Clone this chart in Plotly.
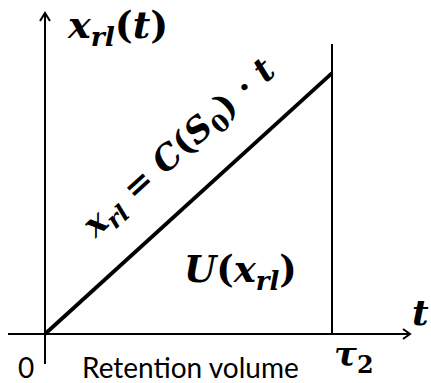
import math
import plotly.graph_objects as go

# Retention-volume model: x_rl grows linearly in t up to tau_2
t_values = [0.0, 1.0]          # t = 0 .. tau_2
slope_C = 0.909                # C(S0)
xrl_values = [slope_C * t for t in t_values]
tau2 = t_values[-1]

W, H = 431, 383
ORIGIN_PX = (45, 334)
UNIT = 287.0

def P(px, py):
    """Convert canvas pixel position to data coordinates."""
    return (px - ORIGIN_PX[0]) / UNIT, (ORIGIN_PX[1] - py) / UNIT

x0, y0 = P(0, H)
x1, y1 = P(W, 0)

fig = go.Figure()

# the linear law x_rl = C(S0) t
fig.add_trace(go.Scatter(
    x=t_values, y=xrl_values, mode="lines",
    line=dict(color="black", width=3.8), hoverinfo="skip", showlegend=False,
))

AX = dict(color="black", width=2)
shapes = []
# horizontal t-axis with open arrowhead
ax_l, ax_y = P(8, 334)
ax_r, _ = P(410, 334)
shapes.append(dict(type="line", xref="x", yref="y", x0=ax_l, y0=0, x1=ax_r, y1=0, line=AX))
a1 = P(403, 329); a2 = P(403, 339)
shapes.append(dict(type="path", xref="x", yref="y",
                   path=f"M{a1[0]},{a1[1]} L{ax_r},0 L{a2[0]},{a2[1]}", line=AX))
# vertical x_rl-axis with open arrowhead
_, yb = P(45, 364)
_, yt = P(45, 13)
shapes.append(dict(type="line", xref="x", yref="y", x0=0, y0=yb, x1=0, y1=yt, line=AX))
b1 = P(40, 21); b2 = P(50, 21)
shapes.append(dict(type="path", xref="x", yref="y",
                   path=f"M{b1[0]},{b1[1]} L0,{yt} L{b2[0]},{b2[1]}", line=AX))
# vertical line at tau_2
_, vt = P(332, 44)
shapes.append(dict(type="line", xref="x", yref="y", x0=tau2, y0=0, x1=tau2, y1=vt,
                   line=dict(color="black", width=2)))

SERIF = "DejaVu Serif"
SANS = "Lato"

def ann(px, py, text, size, family=SERIF, angle=0, weight="bold"):
    x, y = P(px, py)
    return dict(x=x, y=y, xref="x", yref="y", text=text, showarrow=False,
                font=dict(family=family, size=size, color="black", weight=weight),
                textangle=angle, xanchor="center", yanchor="middle")

angle = -math.degrees(math.atan2(slope_C, 1.0))
annotations = [
    ann(117, 27, "<i>x</i><sub><i>rl</i></sub>(<i>t</i>)", 38),
    ann(420, 312, "<i>t</i>", 36),
    ann(240, 271, "<i>U</i>(<i>x</i><sub><i>rl</i></sub>)", 37),
    ann(179, 149, "<i>x</i><sub><i>rl</i></sub> = <i>C</i>(<i>S</i><sub>0</sub>) · <i>t</i>",
        34, angle=angle),
    ann(353, 356, "<i>τ</i><sub>2</sub>", 34),
    ann(26, 367, "0", 28, family=SANS, weight="normal"),
    ann(190, 367, "Retention volume", 28, family=SANS, weight="normal"),
]

fig.update_layout(
    width=W, height=H, margin=dict(l=0, r=0, t=0, b=0),
    paper_bgcolor="white", plot_bgcolor="white",
    xaxis=dict(range=[x0, x1], visible=False, fixedrange=True),
    yaxis=dict(range=[y0, y1], visible=False, fixedrange=True),
    shapes=shapes, annotations=annotations, showlegend=False,
)

fig.write_html("out.html")
